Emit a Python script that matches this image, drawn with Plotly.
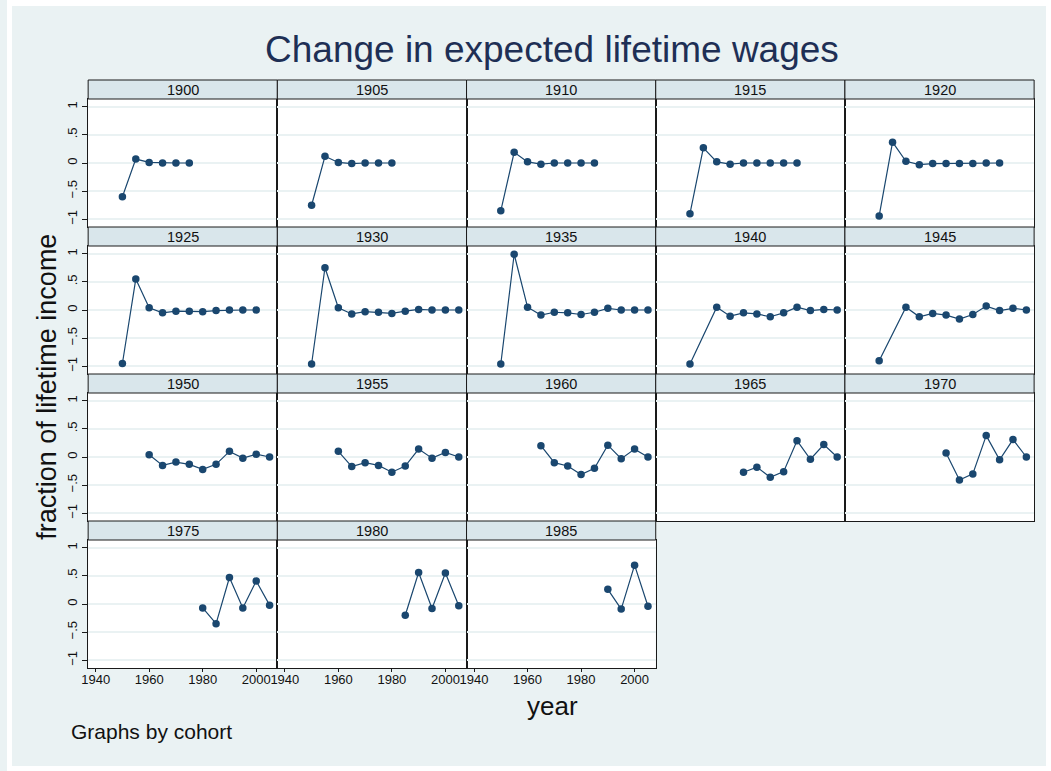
import plotly.graph_objects as go

# ---- data: change in expected lifetime wages, by cohort ----
cohorts = [1900, 1905, 1910, 1915, 1920, 1925, 1930, 1935, 1940,
           1945, 1950, 1955, 1960, 1965, 1970, 1975, 1980, 1985]

years_1900 = [1950, 1955, 1960, 1965, 1970, 1975]
wage_1900 = [-0.60, 0.07, 0.01, 0.00, 0.00, 0.00]

years_1905 = [1950, 1955, 1960, 1965, 1970, 1975, 1980]
wage_1905 = [-0.75, 0.12, 0.01, -0.01, 0.00, 0.00, 0.00]

years_1910 = [1950, 1955, 1960, 1965, 1970, 1975, 1980, 1985]
wage_1910 = [-0.85, 0.19, 0.02, -0.02, 0.00, 0.00, 0.00, 0.00]

years_1915 = [1950, 1955, 1960, 1965, 1970, 1975, 1980, 1985, 1990]
wage_1915 = [-0.90, 0.27, 0.02, -0.02, 0.00, 0.00, 0.00, 0.00, 0.00]

years_1920 = [1950, 1955, 1960, 1965, 1970, 1975, 1980, 1985, 1990, 1995]
wage_1920 = [-0.94, 0.37, 0.03, -0.03, -0.01, -0.01, -0.01, -0.01, 0.00, 0.00]

years_1925 = [1950, 1955, 1960, 1965, 1970, 1975, 1980, 1985, 1990, 1995, 2000]
wage_1925 = [-0.95, 0.55, 0.04, -0.05, -0.02, -0.02, -0.03, -0.01, 0.00, 0.00, 0.00]

years_1930 = [1950, 1955, 1960, 1965, 1970, 1975, 1980, 1985, 1990, 1995, 2000, 2005]
wage_1930 = [-0.96, 0.75, 0.04, -0.07, -0.03, -0.04, -0.06, -0.02, 0.01, 0.00, 0.00, 0.00]

years_1935 = [1950, 1955, 1960, 1965, 1970, 1975, 1980, 1985, 1990, 1995, 2000, 2005]
wage_1935 = [-0.96, 0.99, 0.05, -0.09, -0.04, -0.05, -0.08, -0.04, 0.03, 0.00, 0.00, 0.00]

years_1940 = [1950, 1960, 1965, 1970, 1975, 1980, 1985, 1990, 1995, 2000, 2005]
wage_1940 = [-0.96, 0.05, -0.11, -0.05, -0.07, -0.12, -0.05, 0.05, -0.01, 0.01, 0.00]

years_1945 = [1950, 1960, 1965, 1970, 1975, 1980, 1985, 1990, 1995, 2000, 2005]
wage_1945 = [-0.90, 0.05, -0.12, -0.06, -0.09, -0.16, -0.08, 0.07, -0.01, 0.03, 0.00]

years_1950 = [1960, 1965, 1970, 1975, 1980, 1985, 1990, 1995, 2000, 2005]
wage_1950 = [0.04, -0.15, -0.09, -0.13, -0.22, -0.13, 0.10, -0.02, 0.05, 0.00]

years_1955 = [1960, 1965, 1970, 1975, 1980, 1985, 1990, 1995, 2000, 2005]
wage_1955 = [0.10, -0.17, -0.10, -0.15, -0.27, -0.16, 0.14, -0.02, 0.08, 0.00]

years_1960 = [1965, 1970, 1975, 1980, 1985, 1990, 1995, 2000, 2005]
wage_1960 = [0.20, -0.10, -0.16, -0.31, -0.20, 0.21, -0.03, 0.14, 0.00]

years_1965 = [1970, 1975, 1980, 1985, 1990, 1995, 2000, 2005]
wage_1965 = [-0.27, -0.18, -0.36, -0.26, 0.29, -0.04, 0.22, 0.00]

years_1970 = [1975, 1980, 1985, 1990, 1995, 2000, 2005]
wage_1970 = [0.07, -0.41, -0.30, 0.38, -0.05, 0.31, 0.00]

years_1975 = [1980, 1985, 1990, 1995, 2000, 2005]
wage_1975 = [-0.07, -0.35, 0.47, -0.07, 0.41, -0.02]

years_1980 = [1985, 1990, 1995, 2000, 2005]
wage_1980 = [-0.20, 0.56, -0.08, 0.55, -0.03]

years_1985 = [1990, 1995, 2000, 2005]
wage_1985 = [0.26, -0.09, 0.69, -0.04]

x_tick_vals = [1940, 1960, 1980, 2000]
x_tick_text = ["1940", "1960", "1980", "2000"]
y_tick_vals = [-1, -0.5, 0, 0.5, 1]
y_tick_text = ["\u22121", "\u2212.5", "0", ".5", "1"]

series = [
    (years_1900, wage_1900), (years_1905, wage_1905), (years_1910, wage_1910),
    (years_1915, wage_1915), (years_1920, wage_1920), (years_1925, wage_1925),
    (years_1930, wage_1930), (years_1935, wage_1935), (years_1940, wage_1940),
    (years_1945, wage_1945), (years_1950, wage_1950), (years_1955, wage_1955),
    (years_1960, wage_1960), (years_1965, wage_1965), (years_1970, wage_1970),
    (years_1975, wage_1975), (years_1980, wage_1980), (years_1985, wage_1985),
]

# ---- page geometry (pixels) ----
W, H = 1051, 771
N_COLS = 5
GRID_LEFT, GRID_RIGHT = 81.7, 1034.0
COL_W = (GRID_RIGHT - GRID_LEFT) / N_COLS
ROW_TOP0 = 80.0
ROW_H = 147.0
STRIP_H = 19.0

BG = "#EAF2F3"
STRIP = "#D9E6EB"
NAVY = "#1A476F"
FONT = "Liberation Sans, Arial, sans-serif"


def fx(p):
    return p / W


def fy(p):
    return 1 - p / H


fig = go.Figure()
shapes = []
annotations = []
layout_axes = {}

n_rows = (len(cohorts) + N_COLS - 1) // N_COLS
for i, (cohort, (yrs, vals)) in enumerate(zip(cohorts, series)):
    r, c = divmod(i, N_COLS)
    n = i + 1
    xa = "x" if n == 1 else f"x{n}"
    ya = "y" if n == 1 else f"y{n}"
    left = GRID_LEFT + c * COL_W
    right = left + COL_W
    top = ROW_TOP0 + r * ROW_H
    plot_top = top + STRIP_H
    plot_bot = top + ROW_H

    left_panel = c == 0
    show_x = r == n_rows - 1

    fig.add_trace(go.Scatter(
        x=yrs, y=vals, mode="lines+markers", xaxis=xa, yaxis=ya,
        line=dict(color=NAVY, width=1.2),
        marker=dict(color=NAVY, size=7.5),
        showlegend=False, hoverinfo="x+y",
    ))

    layout_axes["xaxis" if n == 1 else f"xaxis{n}"] = dict(
        domain=[fx(left), fx(right)], anchor=ya,
        range=[1937.2, 2007.9], showgrid=False, zeroline=False,
        showline=True, mirror=True, linecolor="#1a1a1a", linewidth=1,
        tickmode="array", tickvals=x_tick_vals, ticktext=x_tick_text,
        ticks="outside" if show_x else "", ticklen=3, tickcolor="#1a1a1a",
        showticklabels=show_x, ticklabelstandoff=-4,
        tickfont=dict(family=FONT, size=13, color="#111"),
    )
    layout_axes["yaxis" if n == 1 else f"yaxis{n}"] = dict(
        domain=[fy(plot_bot), fy(plot_top)], anchor=xa,
        range=[-1.137, 1.137], showgrid=True, gridcolor=BG, gridwidth=1.6,
        zeroline=False,
        showline=True, mirror=True, linecolor="#1a1a1a", linewidth=1,
        tickmode="array", tickvals=y_tick_vals, ticktext=y_tick_text,
        ticks="outside" if left_panel else "", ticklen=5, tickcolor="#1a1a1a",
        showticklabels=left_panel, tickangle=-90,
        tickfont=dict(family=FONT, size=13, color="#111"),
    )

    # cohort strip above each panel
    shapes.append(dict(
        type="rect", xref="paper", yref="paper",
        x0=fx(left), x1=fx(right), y0=fy(plot_top), y1=fy(top),
        fillcolor=STRIP, line=dict(color="#1a1a1a", width=1), layer="above",
    ))
    annotations.append(dict(
        text=str(cohort), xref="paper", yref="paper",
        x=fx((left + right) / 2), y=fy(top + STRIP_H / 2),
        xanchor="center", yanchor="middle", showarrow=False,
        font=dict(family=FONT, size=14.5, color="#111"),
    ))

# thin white frame round the graph region
for x0, y0, x1, y1 in [(0, 0, W, 6), (0, 0, 5, H), (W - 5, 0, W, H), (0, H - 5, W, H)]:
    shapes.append(dict(
        type="rect", xref="paper", yref="paper",
        x0=fx(x0), x1=fx(x1), y0=fy(y1), y1=fy(y0),
        fillcolor="white", line=dict(width=0), layer="above",
    ))

annotations += [
    dict(text="Change in expected lifetime wages", xref="paper", yref="paper",
         x=fx(549), y=fy(49), xanchor="center", yanchor="middle", showarrow=False,
         font=dict(family=FONT, size=37, color="#1E2F55")),
    dict(text="fraction of lifetime income", xref="paper", yref="paper",
         x=fx(40), y=fy(387), xanchor="center", yanchor="middle", showarrow=False,
         textangle=-90, font=dict(family=FONT, size=27, color="#111")),
    dict(text="year", xref="paper", yref="paper",
         x=fx(549), y=fy(689), xanchor="center", yanchor="top", showarrow=False,
         font=dict(family=FONT, size=26, color="#111")),
    dict(text="Graphs by cohort", xref="paper", yref="paper",
         x=fx(62), y=fy(731), xanchor="left", yanchor="middle", showarrow=False,
         font=dict(family=FONT, size=21, color="#111")),
]

fig.update_layout(
    width=W, height=H, margin=dict(l=0, r=0, t=0, b=0),
    paper_bgcolor=BG, plot_bgcolor="white",
    shapes=shapes, annotations=annotations,
    showlegend=False, **layout_axes,
)

fig.write_html("out.html")
